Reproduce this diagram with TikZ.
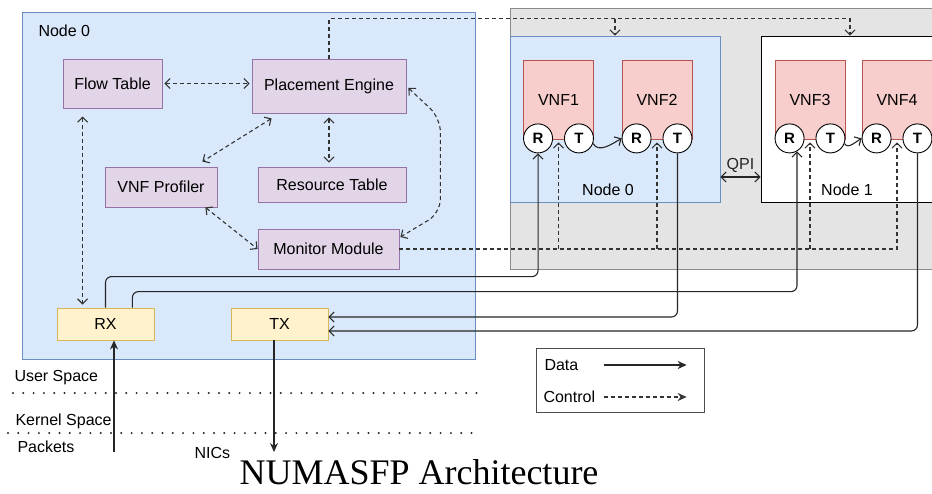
\documentclass[tikz,border=0pt]{standalone}
\usepackage{fontspec}
\setmainfont{Liberation Sans}
\newfontfamily\captionserif{Liberation Serif}
\usetikzlibrary{arrows.meta}

\definecolor{hostfill}{HTML}{DAE8FC}
\definecolor{hostdraw}{HTML}{6C8EBF}
\definecolor{ctrlfill}{HTML}{E1D5E7}
\definecolor{ctrldraw}{HTML}{9673A6}
\definecolor{vnffill}{HTML}{F8CECC}
\definecolor{vnfdraw}{HTML}{B85450}
\definecolor{iofill}{HTML}{FFF2CC}
\definecolor{iodraw}{HTML}{D6B656}
\definecolor{sockfill}{HTML}{E4E4E4}
\definecolor{sockdraw}{HTML}{8C8C8C}

\begin{document}
\begin{tikzpicture}[x=1pt, y=-1pt, font=\fontsize{16}{19}\selectfont,
    >={Straight Barb[length=5pt,width=10pt]},
    box/.style={draw, line width=0.8pt, inner sep=0pt, align=center},
    ctrlbox/.style={box, fill=ctrlfill, draw=ctrldraw},
    vnfbox/.style={box, fill=vnffill, draw=vnfdraw, minimum width=70pt, minimum height=79pt},
    iobox/.style={box, fill=iofill, draw=iodraw, minimum width=97pt, minimum height=32pt},
    port/.style={circle, draw=black, fill=white, line width=0.9pt, minimum size=29pt,
                 inner sep=0pt, font=\fontsize{15}{18}\selectfont\bfseries},
    data/.style={line width=1.1pt, black!85},
    ctrl/.style={line width=1.1pt, black!80, dash pattern=on 4pt off 3pt},
    sep/.style={line width=2.2pt, black!85, line cap=round, dash pattern=on 0pt off 10.3pt},
    filled/.style={-{Stealth[length=9pt,width=8pt]}}]

  \clip (0,0) rectangle (932,493);
  \fill[white] (0,0) rectangle (932,493);

  %% ===== HOST: NODE 0 (user space) =====
  \node[box, fill=hostfill, draw=hostdraw, minimum width=453pt, minimum height=347pt] (host) at (248.5,185.5) {};
  \node[anchor=west] (hostlbl) at (35,31) {Node 0};

  % Control plane modules
  \node[ctrlbox, minimum width=99pt, minimum height=49pt] (flowtab) at (112.5,83.5) {Flow Table};
  \node[ctrlbox, minimum width=154pt, minimum height=54pt] (placement) at (329,86) {Placement Engine};
  \node[ctrlbox, minimum width=112pt, minimum height=40pt] (profiler) at (161,187) {VNF Profiler};
  \node[ctrlbox, minimum width=148pt, minimum height=35pt] (restab) at (332,184.5) {Resource Table};
  \node[ctrlbox, minimum width=141pt, minimum height=40pt] (monitor) at (328.5,249) {Monitor Module};

  % IO threads
  \node[iobox] (rx) at (105.5,324) {RX};
  \node[iobox] (tx) at (279.5,324) {TX};

  %% ===== SOCKETS: NUMA NODES =====
  \node[box, fill=sockfill, draw=sockdraw, minimum width=440pt, minimum height=261pt] (socket) at (730,138.5) {};
  \node[box, fill=hostfill, draw=hostdraw, minimum width=210pt, minimum height=166pt] (numa0) at (615,119) {};
  \node[box, fill=white, draw=black, minimum width=178pt, minimum height=166pt] (numa1) at (850,119) {};
  \node (numa0lbl) at (608,190) {Node 0};
  \node (numa1lbl) at (847,190) {Node 1};

  % VNFs with their R/T ports
  \foreach \n/\x in {1/558.5, 2/657, 3/810, 4/897} {
    \node[vnfbox] (vnf\n) at (\x,99.5) {VNF\n};
    \node[port, anchor=west] (r\n) at ([yshift=1pt]vnf\n.south west) {R};
    \node[port, anchor=east] (t\n) at ([yshift=1pt]vnf\n.south east) {T};
  }

  %% ===== DATA PATH =====
  \draw[data, ->, rounded corners=6pt] (rx.north) -- ++(0,-31) -| (r1.south);
  \draw[data, ->, rounded corners=6pt] ([xshift=-22pt]rx.north east) -- ++(0,-16) -| (r3.-60);
  \draw[data, ->, rounded corners=6pt] (t2.south) |- ([yshift=7pt]tx.east);
  \draw[data, ->, rounded corners=6pt] (t4.south) |- ([yshift=-7pt]tx.east);
  \draw[data, ->] (t1.-20) to[out=-60, in=-150] (r2.west);
  \draw[data, ->] (t3.-20) to[out=-60, in=-150] (r4.west);

  % QPI link
  \draw[data, <->] ([yshift=-58pt]numa0.east) -- ([yshift=-58pt]numa0.east -| numa1.west)
    node[midway, above=1pt] (qpi) {QPI};

  % NIC side
  \coordinate (pkt) at (114,452);
  \coordinate (nic) at (274,452);
  \draw[data, filled] (pkt) -- (pkt |- rx.south);
  \draw[data, filled] (tx.south -| nic) -- (nic);

  %% ===== CONTROL PATH =====
  \draw[ctrl, <->, shorten <=2pt, shorten >=2pt] (flowtab.east) -- (flowtab.east -| placement.west);
  \draw[ctrl, <->] ([xshift=20pt,yshift=-5pt]placement.south west) -- ([xshift=-15pt,yshift=5pt]profiler.north east);
  \draw[ctrl, <->, shorten <=4pt, shorten >=4pt] (placement.south) -- (placement.south |- restab.north);
  \draw[ctrl, <->, rounded corners=14pt] ([xshift=2pt,yshift=-2pt]placement.east) -- ++(32,30) -- ++(0,95)
    -- ([xshift=1pt,yshift=12pt]monitor.east);
  \draw[ctrl, <->] ([xshift=-12pt]profiler.south east) -- (monitor.west);
  \draw[ctrl, <->, shorten <=8pt, shorten >=3pt] ([xshift=20pt]flowtab.south west)
    -- ([xshift=20pt]flowtab.south west |- rx.north);

  % Placement engine to NUMA nodes
  \draw[ctrl, ->] (placement.north) |- ([yshift=17pt]numa1.north) -- (numa1.north);
  \draw[ctrl, ->] ([yshift=17pt]numa0.north) -- (numa0.north);

  % Monitor module to VNFs
  \draw[ctrl, ->, shorten >=3pt] (monitor.east) -| (vnf4.south);
  \foreach \v in {vnf1, vnf2, vnf3}
    \draw[ctrl, ->, shorten >=3pt] (monitor.east -| \v.south) -- (\v.south);

  %% ===== USER / KERNEL SPACE =====
  \draw[sep] (13,393) -- (478,393);
  \draw[sep] (8,433) -- (478,433);
  \node[anchor=west] (userlbl) at (11,378) {User Space};
  \node[anchor=west] (kernlbl) at (12,421) {Kernel Space};
  \node[anchor=west] (pktlbl) at (14,447) {Packets};
  \node[anchor=west] (niclbl) at (191,453) {NICs};

  %% ===== LEGEND =====
  \node[box, draw=black!70, fill=white, line width=1pt, minimum width=168pt, minimum height=64pt] (legend) at (620,380) {};
  \node[anchor=west] (datalbl) at (541,365) {Data};
  \node[anchor=west] (ctrllbl) at (540,397) {Control};
  \draw[data, filled] (datalbl.east -| ctrllbl.east) ++(5,0) -- ++(83,0);
  \draw[ctrl, filled] (ctrllbl.east) ++(5,0) -- ++(83,0);

  % Caption
  \node[font=\captionserif\fontsize{36}{40}\selectfont, inner sep=0pt, anchor=base] (title) at (419,484) {NUMASFP Architecture};

\end{tikzpicture}
\end{document}
